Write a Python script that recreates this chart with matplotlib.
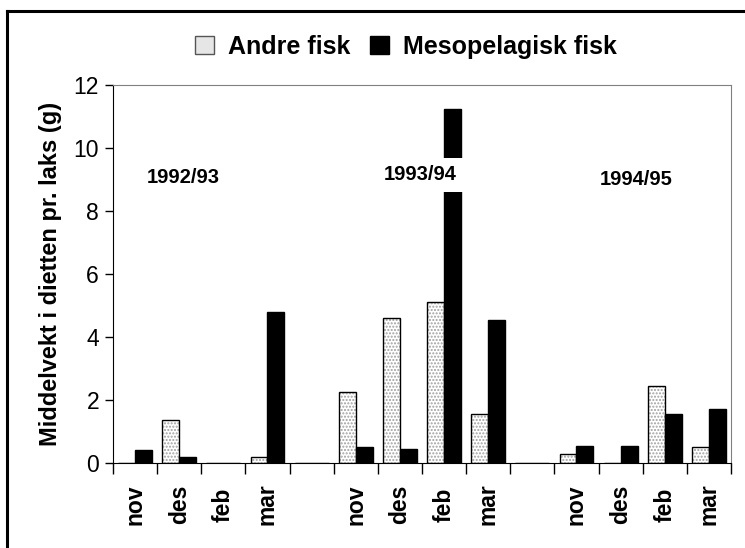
import matplotlib
matplotlib.use("Agg")
import matplotlib.pyplot as plt
from matplotlib.lines import Line2D
from matplotlib.patches import Patch
import numpy as np

plt.rcParams['font.family'] = ['Liberation Sans', 'DejaVu Sans']

# 14 slots: 4 months, gap, 4 months, gap, 4 months
months = ["nov", "des", "feb", "mar", "",
          "nov", "des", "feb", "mar", "",
          "nov", "des", "feb", "mar"]
andre = [0, 1.37, 0, 0.2, 0,
         2.25, 4.6, 5.1, 1.55, 0,
         0.3, 0, 2.45, 0.5]
meso = [0.42, 0.2, 0, 4.78, 0,
        0.5, 0.45, 11.25, 4.55, 0,
        0.55, 0.55, 1.55, 1.7]
seasons = ["1992/93", "1993/94", "1994/95"]
season_x = [1.1, 6.45, 11.35]
season_y = [9.05, 9.15, 9.0]

fig = plt.figure(figsize=(7.45, 5.48), dpi=100)
ax = fig.add_axes([113/745, 1-463/548, (731-113)/745, (463-85)/548])

x = np.arange(len(months))
w = 0.385
# light bars: dotted fill, then outline on top
ax.bar(x - w/2, andre, width=w, color='white', edgecolor='#a0a0a0', hatch='.....', lw=0, zorder=2)
ax.bar(x - w/2, andre, width=w, fill=False, edgecolor='black', lw=1.0, zorder=3)
ax.bar(x + w/2, meso, width=w, color='black', edgecolor='black', lw=1.0, zorder=3)

for s, sx, sy in zip(seasons, season_x, season_y):
    t = ax.text(sx, sy, s, ha='center', va='center', fontsize=14.5, fontweight='bold', zorder=5)
    if s == "1993/94":
        t.set_bbox(dict(boxstyle='square,pad=0.38', facecolor='white', edgecolor='none'))

ax.set_xlim(-0.5, len(months) - 0.5)
ax.set_ylim(0, 12)
ax.set_yticks([0, 2, 4, 6, 8, 10, 12])
ax.set_xticks(np.arange(-0.5, len(months), 1.0))
ax.set_xticklabels([])
ax.tick_params(axis='x', direction='out', length=8, width=1)
ax.tick_params(axis='y', direction='out', length=6, width=1, labelsize=16.5, pad=4)

for i, m in enumerate(months):
    if m:
        ax.text(i, -0.11, m, transform=ax.get_xaxis_transform(), rotation=90,
                ha='center', va='center', fontsize=16.5, fontweight='bold')

ax.spines['top'].set_color('#808080')
ax.spines['right'].set_color('#808080')
ax.spines['left'].set_color('black')
ax.spines['bottom'].set_color('black')

ax.set_ylabel("Middelvekt i dietten pr. laks (g)", fontsize=17, fontweight='bold', labelpad=8)

handles = [Patch(facecolor='#e6e6e6', edgecolor='#555555', lw=1.0),
           Patch(facecolor='black', edgecolor='black')]
fig.legend(handles, ["Andre fisk", "Mesopelagisk fisk"], loc='center',
           bbox_to_anchor=(406/745, 1-47/548), ncol=2, frameon=False,
           prop={'weight': 'bold', 'size': 18}, handlelength=0.75, handleheight=0.75,
           handletextpad=0.55, columnspacing=0.8)

# outer frame (only left and top edges visible)
fig.add_artist(Line2D([7/745, 7/745], [0, 1-11/548], color='black', lw=2.2))
fig.add_artist(Line2D([7/745, 1], [1-11/548, 1-11/548], color='black', lw=2.2))

fig.savefig("out.png", dpi=100)
